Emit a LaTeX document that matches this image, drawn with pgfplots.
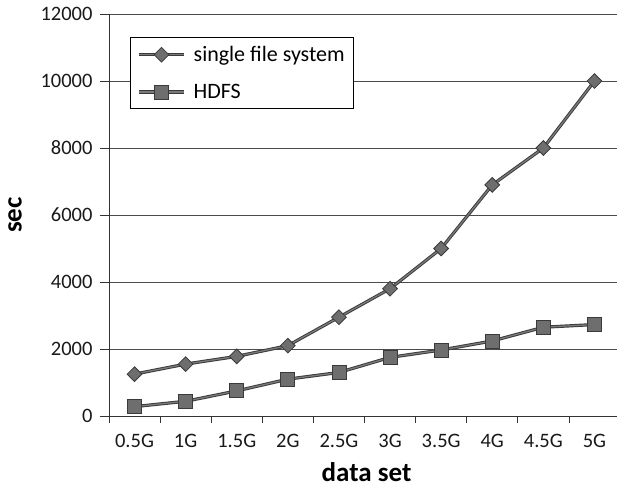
\documentclass[border=0pt]{standalone}
\usepackage{pgfplots}
\pgfplotsset{compat=1.18}
\usepackage{fontspec}
\setmainfont{Carlito}
\definecolor{linedark}{HTML}{3A3A3A}
\definecolor{lineinner}{HTML}{7A7A7A}
\definecolor{markfill}{HTML}{6E6E6E}
\pgfplotsset{dbllegend/.style={legend image code/.code={\draw[linedark, line width=3.2pt] (0pt,0pt) -- (45pt,0pt);
     \draw[mark repeat=2,mark phase=2,##1] plot coordinates {(0pt,0pt)(22.5pt,0pt)(45pt,0pt)};
     \path (52pt,0pt);}}}
\begin{document}
\begin{tikzpicture}
\begin{axis}[
  scale only axis,
  width=511pt, height=402pt,
  xmin=-0.5, xmax=9.5,
  ymin=0, ymax=12000,
  axis lines=left,
  axis line style={-, black!80, line width=0.7pt},
  xtick={0,...,9},
  xticklabels={0.5G,1G,1.5G,2G,2.5G,3G,3.5G,4G,4.5G,5G},
  minor xtick={-0.5,0.5,...,9.5},
  ytick={0,2000,...,12000},
  tick pos=left,
  tick align=outside,
  major tick length=9pt,
  minor tick length=7pt,
  x tick style={draw=none},
  minor x tick style={draw=black!80, line width=0.7pt},
  y tick style={draw=black!80, line width=0.7pt},
  ymajorgrids,
  grid style={black!70, line width=0.7pt},
  scaled y ticks=false,
  /pgf/number format/assume math mode=true,
  y tick label style={/pgf/number format/1000 sep={}, xshift=-4pt},
  x tick label style={yshift=-6pt},
  tick label style={font=\fontsize{20.5}{22}\selectfont, text=black!90},
  xlabel={\textbf{data set}},
  ylabel={\textbf{sec}},
  xlabel style={font=\fontsize{27}{30}\selectfont, at={(axis description cs:0.5,0)}, anchor=center, yshift=-56pt, xshift=2pt},
  ylabel style={font=\fontsize{27}{30}\selectfont, at={(axis description cs:0,0.5)}, anchor=center, yshift=94pt},
  legend style={at={(0.041,0.943)}, anchor=north west, draw=black, line width=0.9pt,
     font=\fontsize{22}{24}\selectfont, row sep=17pt, inner xsep=7pt, inner ysep=7pt,
     cells={anchor=west}},
  legend cell align=left,
]
\coordinate (sw) at (rel axis cs:0,0);
\addplot[linedark, line width=3.2pt, forget plot] coordinates {
(0,1250) (1,1550) (2,1780) (3,2100) (4,2950) (5,3800) (6,5000) (7,6900) (8,8000) (9,10000)};
\addplot[lineinner, line width=1.3pt, mark=square*, mark size=5.2pt,
  mark options={rotate=45, draw=linedark, fill=markfill, line width=0.8pt},
  dbllegend] coordinates {
(0,1250) (1,1550) (2,1780) (3,2100) (4,2950) (5,3800) (6,5000) (7,6900) (8,8000) (9,10000)};
\addlegendentry{single file system}
\addplot[linedark, line width=3.2pt, forget plot] coordinates {
(0,280) (1,440) (2,750) (3,1100) (4,1300) (5,1750) (6,1970) (7,2240) (8,2650) (9,2730)};
\addplot[lineinner, line width=1.3pt, mark=square*, mark size=7pt,
  mark options={draw=linedark, fill=markfill, line width=0.8pt},
  dbllegend] coordinates {
(0,280) (1,440) (2,750) (3,1100) (4,1300) (5,1750) (6,1970) (7,2240) (8,2650) (9,2730)};
\addlegendentry{HDFS}
\end{axis}
\pgfresetboundingbox
\path[use as bounding box] (sw) ++(-109pt,-72pt) rectangle ++(617pt,488pt);
\end{tikzpicture}
\end{document}
